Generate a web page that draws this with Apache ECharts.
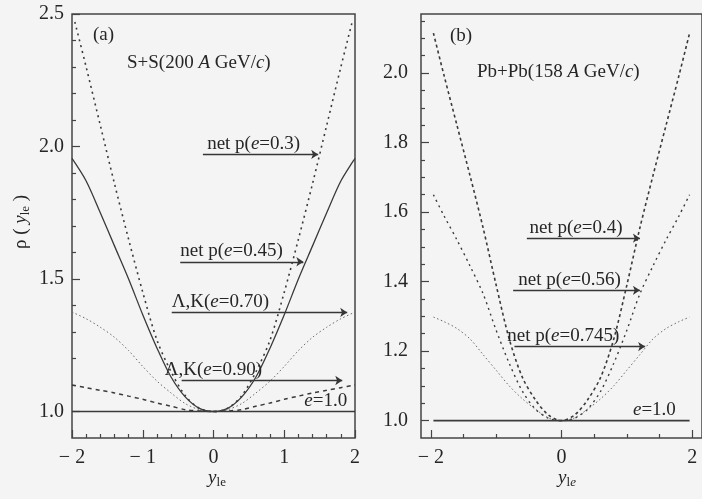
<!DOCTYPE html>
<html><head><meta charset="utf-8">
<script src="https://cdn.jsdelivr.net/npm/echarts@6/dist/echarts.min.js"></script>
<style>html,body{margin:0;padding:0;background:#f4f4f4;}#c{width:702px;height:499px;}</style>
</head><body><div id="c"></div>
<script>
// ===== Panel (a): S+S (200 A GeV/c) =====
const xA = [-2.0,-1.8,-1.6,-1.4,-1.2,-1.0,-0.8,-0.6,-0.4,-0.2,0,0.2,0.4,0.6,0.8,1.0,1.2,1.4,1.6,1.8,2.0];
const xA03 = [-1.96,-1.8,-1.6,-1.4,-1.2,-1.0,-0.8,-0.6,-0.4,-0.2,0,0.2,0.4,0.6,0.8,1.0,1.2,1.4,1.6,1.8,1.96];
const netp030 = [2.47,2.30,2.08,1.86,1.65,1.45,1.27,1.15,1.06,1.012,1.0,1.012,1.06,1.15,1.27,1.45,1.65,1.86,2.08,2.30,2.47];
const netp045 = [1.955,1.87,1.75,1.625,1.50,1.365,1.24,1.13,1.055,1.012,1.0,1.012,1.055,1.13,1.24,1.365,1.50,1.625,1.75,1.87,1.955];
const lk070 = [1.375,1.35,1.318,1.28,1.23,1.17,1.115,1.07,1.03,1.007,1.0,1.007,1.03,1.07,1.115,1.17,1.23,1.28,1.318,1.35,1.375];
const lk090 = [1.10,1.09,1.08,1.07,1.058,1.046,1.032,1.02,1.007,1.002,1.0,1.002,1.007,1.02,1.032,1.046,1.058,1.07,1.08,1.09,1.10];
const xE1A = [-2, 2];
const e10A = [1.0, 1.0];
const xMajorA = [-2,-1,0,1,2];
const xMinorA = [-1.8,-1.6,-1.4,-1.2,-0.8,-0.6,-0.4,-0.2,0.2,0.4,0.6,0.8,1.2,1.4,1.6,1.8];
const yMajorA = [1.0,1.5,2.0,2.5];
const yMinorA = [1.1,1.2,1.3,1.4,1.6,1.7,1.8,1.9,2.1,2.2,2.3,2.4];
// arrows (a): y level, start x, tip x, label text, label x
const arrYA = [1.97, 1.565, 1.374, 1.117];
const arrX0A = [-0.15, -0.47, -0.59, -0.45];
const arrX1A = [1.48, 1.27, 1.89, 1.82];
const arrTextA = ['net p({i|e}=0.3)', 'net p({i|e}=0.45)', 'Λ,K({i|e}=0.70)', 'Λ,K({i|e}=0.90)'];
const arrLabelXA = [-0.09, -0.47, -0.59, -0.69];

// ===== Panel (b): Pb+Pb (158 A GeV/c) =====
const xB = [-1.96,-1.8,-1.6,-1.4,-1.2,-1.0,-0.8,-0.6,-0.4,-0.2,0,0.2,0.4,0.6,0.8,1.0,1.2,1.4,1.6,1.8,1.96];
const netp040 = [2.115,1.995,1.85,1.705,1.555,1.39,1.235,1.125,1.06,1.016,1.0,1.016,1.06,1.125,1.235,1.39,1.555,1.705,1.85,1.995,2.115];
const netp056 = [1.65,1.59,1.52,1.445,1.365,1.26,1.165,1.085,1.033,1.007,1.0,1.007,1.033,1.085,1.165,1.26,1.365,1.445,1.52,1.59,1.65];
const netp0745 = [1.298,1.285,1.265,1.235,1.19,1.145,1.10,1.063,1.033,1.008,1.0,1.008,1.033,1.063,1.10,1.145,1.19,1.235,1.265,1.285,1.298];
const xE1B = [-1.96, 1.96];
const e10B = [1.0, 1.0];
const xMajorB = [-2,0,2];
const xMinorB = [-1.5,-1,-0.5,0.5,1,1.5];
const yMajorB = [1.0,1.2,1.4,1.6,1.8,2.0];
const yMinorB = [1.05,1.1,1.15,1.25,1.3,1.35,1.45,1.5,1.55,1.65,1.7,1.75,1.85,1.9,1.95,2.05,2.1,2.15];
const arrYB = [1.525, 1.375, 1.213];
const arrX0B = [-0.53, -0.74, -0.72];
const arrX1B = [1.2, 1.2, 1.28];
const arrTextB = ['net p({i|e}=0.4)', 'net p({i|e}=0.56)', 'net p({i|e}=0.745)'];
const arrLabelXB = [-0.49, -0.66, -0.83];

// ===== styling / building =====
const INK = '#262626';
const FONT = 'Liberation Serif';
const FS = 19;
const TFS = 20;
const rich = {
  i: {fontStyle: 'italic', fontFamily: FONT, fontSize: FS, fill: INK},
  s: {fontFamily: FONT, fontSize: 13, fill: INK, verticalAlign: 'bottom', padding: [9, 0, 0, 0]},
  si: {fontFamily: FONT, fontSize: 13, fontStyle: 'italic', fill: INK, verticalAlign: 'bottom', padding: [9, 0, 0, 0]}
};
const pairs = (xs, ys) => xs.map((x, k) => [x, ys[k]]);
const fmtX = v => (v < 0 ? '\u2212 ' + (-v) : String(v));
const fmtY = v => v.toFixed(1);

function axisPair(kind, g, min, max, majors, minors, fmt, margin) {
  const pos = kind === 'x' ? 'bottom' : 'left';
  const base = {gridIndex: g, type: 'value', min, max, position: pos,
    axisLine: {show: false, onZero: false}, splitLine: {show: false}};
  return [
    Object.assign({}, base, {
      axisTick: {inside: true, length: 8, customValues: majors, lineStyle: {color: '#444', width: 1.2}},
      axisLabel: {customValues: majors, formatter: fmt, margin, color: INK, fontFamily: FONT, fontSize: TFS}
    }),
    Object.assign({}, base, {
      axisTick: {inside: true, length: 4, customValues: minors, lineStyle: {color: '#444', width: 1.2}},
      axisLabel: {show: false}
    })
  ];
}

const xAxes = [].concat(
  axisPair('x', 0, -2, 2, xMajorA, xMinorA, fmtX, 10),
  axisPair('x', 1, -2.15, 2.15, xMajorB, xMinorB, fmtX, 10)
);
const yAxes = [].concat(
  axisPair('y', 0, 0.9, 2.5, yMajorA, yMinorA, fmtY, 8),
  axisPair('y', 1, 0.95, 2.17, yMajorB, yMinorB, fmtY, 13)
);

function curve(name, xs, ys, xi, yi, color, width, type) {
  return {name, type: 'line', xAxisIndex: xi, yAxisIndex: yi, data: pairs(xs, ys),
    showSymbol: false, smooth: 0.3, silent: true,
    lineStyle: {color, width, type}, z: 3};
}
function arrows(xi, yi, ys, x0s, x1s) {
  return {type: 'lines', coordinateSystem: 'cartesian2d', xAxisIndex: xi, yAxisIndex: yi,
    symbol: ['none', 'arrow'], symbolSize: 7, silent: true, z: 4,
    lineStyle: {color: '#363636', width: 1.4, type: 'solid', opacity: 1},
    data: ys.map((y, k) => ({coords: [[x0s[k], y], [x1s[k], y]]}))};
}

const series = [
  curve('net p e=0.3', xA03, netp030, 0, 0, '#3a3a3a', 1.6, [2, 4]),
  curve('net p e=0.45', xA, netp045, 0, 0, '#3a3a3a', 1.3, 'solid'),
  curve('Λ,K e=0.70', xA, lk070, 0, 0, '#6a6a6a', 1.0, [1.5, 2.5]),
  curve('Λ,K e=0.90', xA, lk090, 0, 0, '#3a3a3a', 1.5, [4, 4]),
  curve('e=1.0 a', xE1A, e10A, 0, 0, '#3a3a3a', 1.6, 'solid'),
  arrows(0, 0, arrYA, arrX0A, arrX1A),
  curve('net p e=0.4', xB, netp040, 2, 2, '#3a3a3a', 1.6, [3, 3]),
  curve('net p e=0.56', xB, netp056, 2, 2, '#3a3a3a', 1.4, [2, 4]),
  curve('net p e=0.745', xB, netp0745, 2, 2, '#6a6a6a', 1.0, [1.5, 2.5]),
  curve('e=1.0 b', xE1B, e10B, 2, 2, '#3a3a3a', 1.6, 'solid'),
  arrows(2, 2, arrYB, arrX0B, arrX1B)
];

const option = {
  animation: false,
  backgroundColor: '#f4f4f4',
  grid: [
    {left: 72, top: 14, width: 283, height: 424, show: true, borderColor: '#444', borderWidth: 1.5, backgroundColor: 'transparent'},
    {left: 421, top: 14, width: 288, height: 424, show: true, borderColor: '#444', borderWidth: 1.5, backgroundColor: 'transparent'}
  ],
  xAxis: xAxes,
  yAxis: yAxes,
  series
};

const chart = echarts.init(document.getElementById('c'), null, {renderer: 'canvas'});
chart.setOption(option);

function txt(x, y, text, opts) {
  return Object.assign({type: 'text', x, y, z: 10, silent: true,
    style: Object.assign({text, fill: INK, font: FS + 'px "' + FONT + '"', rich,
      align: 'left', verticalAlign: 'middle'}, opts || {})});
}
const g = [];
arrTextA.forEach((t, k) => {
  const p = chart.convertToPixel({xAxisIndex: 0, yAxisIndex: 0}, [arrLabelXA[k], arrYA[k]]);
  g.push(txt(p[0], p[1] - 1, t, {verticalAlign: 'bottom'}));
});
arrTextB.forEach((t, k) => {
  const p = chart.convertToPixel({xAxisIndex: 2, yAxisIndex: 2}, [arrLabelXB[k], arrYB[k]]);
  g.push(txt(p[0], p[1] - 1, t, {verticalAlign: 'bottom'}));
});
const pa = chart.convertToPixel({xAxisIndex: 0, yAxisIndex: 0}, [1.89, 1.0]);
g.push(txt(pa[0], pa[1] - 1, '{i|e}=1.0', {align: 'right', verticalAlign: 'bottom'}));
const pb = chart.convertToPixel({xAxisIndex: 2, yAxisIndex: 2}, [1.75, 1.0]);
g.push(txt(pb[0], pb[1] - 1, '{i|e}=1.0', {align: 'right', verticalAlign: 'bottom'}));
// panel titles
g.push(txt(93, 35, '(a)'));
g.push(txt(127, 63, 'S+S(200 {i|A} GeV/{i|c})'));
g.push(txt(450, 36, '(b)'));
g.push(txt(477, 72, 'Pb+Pb(158 {i|A} GeV/{i|c})'));
// axis names
g.push(txt(217, 478, '{i|y}{s|le}', {align: 'center'}));
g.push(txt(567, 478, '{i|y}{s|l}{si|e}', {align: 'center'}));
g.push(Object.assign(txt(0, 0, 'ρ ( {i|y}{s|le} )', {align: 'center'}), {x: 21, y: 222, rotation: Math.PI / 2}));
chart.setOption({graphic: g});
</script>
</body></html>
